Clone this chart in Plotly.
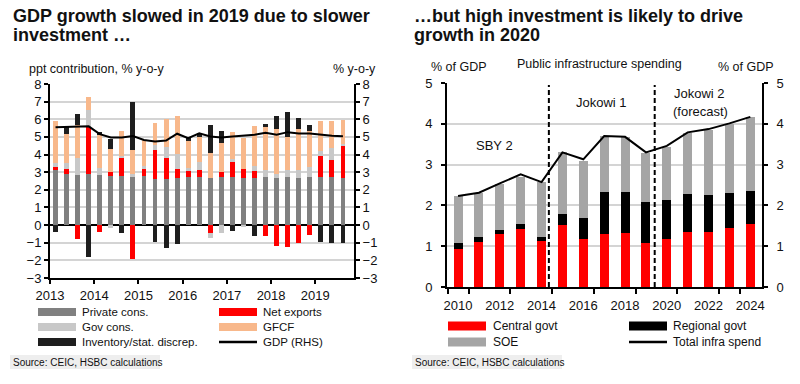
import plotly.graph_objects as go

# ---------------- Left chart data (quarterly, ppt contribution) ----------------
quarters = ["2013Q1", "2013Q2", "2013Q3", "2013Q4", "2014Q1", "2014Q2", "2014Q3", "2014Q4",
            "2015Q1", "2015Q2", "2015Q3", "2015Q4", "2016Q1", "2016Q2", "2016Q3", "2016Q4",
            "2017Q1", "2017Q2", "2017Q3", "2017Q4", "2018Q1", "2018Q2", "2018Q3", "2018Q4",
            "2019Q1", "2019Q2", "2019Q3"]
private_cons = [3.13, 2.90, 2.84, 2.90, 2.86, 2.77, 2.77, 2.77, 2.77, 2.62, 2.62, 2.69, 2.75, 2.75,
                2.65, 2.75, 2.75, 2.65, 2.65, 2.75, 2.69, 2.75, 2.65, 2.75, 2.75, 2.75, 2.69]
net_exports = [0.19, 0.28, -0.80, 2.65, -0.40, 0.23, 1.06, -1.95, 0.41, 1.65, 1.21, 0.49, 0.32, 0.38,
               -0.47, 0.25, 0.81, 0.53, 0.44, -0.60, -1.17, -1.22, -1.00, -0.57, 1.14, 0.95, 1.85]
gov_cons = [0.19, 0.32, 0.95, 0.99, 0.36, -0.15, 0.07, 0.11, 0.18, 0.28, 0.57, 0.84, 0.19, 0.47,
            -0.25, -0.47, 0.17, -0.13, 0.27, 0.38, 0.21, 0.38, 0.48, 0.57, 0.31, 0.66, 0.08]
gfcf = [2.38, 1.68, 1.86, 0.72, 1.94, 1.30, 1.45, 1.39, 1.47, 1.23, 1.63, 2.18, 1.52, 1.42,
        1.42, 1.64, 1.54, 1.75, 2.27, 2.46, 2.56, 1.89, 2.33, 2.03, 1.68, 1.57, 1.35]
inventory = [-0.40, 0.36, 0.64, -1.80, 0.11, 0.59, -0.45, 2.73, 0.00, -0.95, -1.30, -1.10, 0.15, 0.19,
             1.62, 0.71, -0.35, 0.00, -0.62, 0.15, 0.70, 1.38, 0.61, 0.30, -0.98, -1.04, -1.04]
gdp_yoy = [5.55, 5.57, 5.60, 5.60, 5.16, 4.97, 4.97, 5.05, 4.83, 4.74, 4.79, 5.18, 4.93, 5.20,
           5.02, 4.97, 5.02, 5.06, 5.12, 5.23, 5.12, 5.27, 5.19, 5.19, 5.12, 5.06, 5.04]
left_years = ["2013", "2014", "2015", "2016", "2017", "2018", "2019"]

# ---------------- Right chart data (% of GDP) ----------------
years = [2010, 2011, 2012, 2013, 2014, 2015, 2016, 2017, 2018, 2019, 2020, 2021, 2022, 2023, 2024]
central_govt = [0.92, 1.11, 1.29, 1.42, 1.13, 1.52, 1.18, 1.29, 1.32, 1.09, 1.17, 1.34, 1.36, 1.44, 1.54]
regional_govt = [0.15, 0.12, 0.11, 0.12, 0.09, 0.26, 0.50, 1.05, 1.00, 1.00, 0.96, 0.93, 0.89, 0.87, 0.82]
soe = [1.16, 1.07, 1.12, 1.15, 1.36, 1.52, 1.42, 1.36, 1.36, 1.19, 1.31, 1.51, 1.60, 1.69, 1.81]
total_infra = [2.23, 2.31, 2.54, 2.76, 2.57, 3.30, 3.13, 3.70, 3.68, 3.30, 3.46, 3.79, 3.87, 4.01, 4.17]
right_tick_years = [2010, 2012, 2014, 2016, 2018, 2020, 2022, 2024]
period_breaks = [2014.35, 2019.42]

# ---------------- Styling ----------------
FONT = "Arial, 'Liberation Sans', sans-serif"
C_PRIV, C_GOV, C_NX, C_GFCF, C_INV = "#808080", "#c8c8c8", "#ff0000", "#f8b88b", "#1e1e1e"
C_CEN, C_REG, C_SOE = "#ff0000", "#000000", "#a5a5a5"
GRID = "#d4d4d4"
W, H = 800, 384


def px(x):
    return x / W


def py(y):
    return 1 - y / H


xi = list(range(len(quarters)))
year_pos = [quarters.index(y + "Q1") - 0.5 for y in left_years]

fig = go.Figure()
for name, vals, col in [("Private cons.", private_cons, C_PRIV), ("Net exports", net_exports, C_NX),
                        ("Gov cons.", gov_cons, C_GOV), ("GFCF", gfcf, C_GFCF),
                        ("Inventory/stat. discrep.", inventory, C_INV)]:
    fig.add_trace(go.Bar(x=xi, y=vals, name=name, marker=dict(color=col, line=dict(width=0)),
                         width=0.44, xaxis="x", yaxis="y"))
fig.add_trace(go.Scatter(x=xi, y=gdp_yoy, mode="lines", name="GDP (RHS)",
                         line=dict(color="black", width=2), xaxis="x", yaxis="y2"))

for name, vals, col in [("Central govt", central_govt, C_CEN), ("Regional govt", regional_govt, C_REG),
                        ("SOE", soe, C_SOE)]:
    fig.add_trace(go.Bar(x=years, y=vals, name=name, marker=dict(color=col, line=dict(width=0)),
                         width=0.43, xaxis="x2", yaxis="y3"))
fig.add_trace(go.Scatter(x=years, y=total_infra, mode="lines", name="Total infra spend",
                         line=dict(color="black", width=2), xaxis="x2", yaxis="y4"))

axis_common = dict(showline=True, linecolor="black", linewidth=2, ticks="outside", ticklen=4,
                   tickwidth=2, tickcolor="black", automargin=False,
                   tickfont=dict(size=13, color="#111", family=FONT))

fig.update_layout(
    width=W, height=H, margin=dict(l=0, r=0, t=0, b=0, autoexpand=False), paper_bgcolor="white",
    plot_bgcolor="white",
    barmode="relative", bargap=0, showlegend=False, font=dict(family=FONT, color="#111"),
    xaxis=dict(domain=[px(50), px(354)], anchor="y", range=[-0.5, 27.0], tickvals=year_pos,
               ticktext=left_years, showgrid=False, zeroline=False, **axis_common),
    yaxis=dict(domain=[py(278), py(84)], anchor="x", range=[-3, 8], dtick=1, showgrid=True,
               gridcolor=GRID, gridwidth=1.5, zeroline=True, zerolinecolor="black", zerolinewidth=2,
               **axis_common),
    yaxis2=dict(overlaying="y", anchor="x", side="right", range=[-3, 8], dtick=1, showgrid=False,
                zeroline=False, **axis_common),
    xaxis2=dict(domain=[px(447), px(762)], anchor="y3", range=[2009.47, 2024.56],
                tickvals=right_tick_years, ticktext=[str(y) for y in right_tick_years], ticks="",
                ticklabelstandoff=5,
                showgrid=False, zeroline=False, showline=True, linecolor="black", linewidth=2,
                automargin=False, tickfont=dict(size=13, color="#111", family=FONT),
                minor=dict(tickvals=[y + 0.5 for y in [2009] + right_tick_years[:-1]] + [2023.5],
                           ticks="outside", ticklen=5, tickwidth=2, tickcolor="black", showgrid=False)),
    yaxis3=dict(domain=[py(287), py(83)], anchor="x2", range=[0, 5], dtick=1, showgrid=True,
                gridcolor=GRID, gridwidth=1.5, zeroline=False, ticklabelstandoff=6, **axis_common),
    yaxis4=dict(overlaying="y3", anchor="x2", side="right", range=[0, 5], dtick=1, showgrid=False,
                zeroline=False, ticklabelstandoff=6, **axis_common),
)

shapes = []
for xb in period_breaks:
    shapes.append(dict(type="line", xref="x2", yref="y3", x0=xb, x1=xb, y0=0, y1=4.95,
                       line=dict(color="black", width=2, dash="5px,3px")))

annotations = []


def text(x, y, s, size=12.5, anchor="left", bold=False):
    annotations.append(dict(xref="paper", yref="paper", x=px(x), y=py(y), text=("<b>%s</b>" % s) if bold else s,
                            showarrow=False, xanchor=anchor, yanchor="middle",
                            font=dict(size=size, family=FONT, color="#111")))


# Titles
text(11, 16, "GDP growth slowed in 2019 due to slower", size=18, bold=True)
text(11, 35, "investment \u2026", size=18, bold=True)
text(412, 16, "\u2026but high investment is likely to drive", size=18, bold=True)
text(412, 35, "growth in 2020", size=18, bold=True)

# Axis captions
text(27, 69, "ppt contribution, % y-o-y")
text(378, 69, "% y-o-y", anchor="right")
text(429, 67, "% of GDP")
text(776, 67, "% of GDP", anchor="right")
text(599, 64, "Public infrastructure spending", anchor="center")
text(494, 146, "SBY 2", size=13, anchor="center")
text(601, 102, "Jokowi 1", size=13, anchor="center")
text(699, 94, "Jokowi 2", size=13, anchor="center")
text(700, 111, "(forecast)", size=13, anchor="center")


# Manual legends
def swatch(x0, x1, yc, color, h=8):
    shapes.append(dict(type="rect", xref="paper", yref="paper", x0=px(x0), x1=px(x1),
                       y0=py(yc + h / 2), y1=py(yc - h / 2), fillcolor=color, line=dict(width=0)))


def legline(x0, x1, yc):
    shapes.append(dict(type="line", xref="paper", yref="paper", x0=px(x0), x1=px(x1), y0=py(yc), y1=py(yc),
                       line=dict(color="black", width=2.5)))


for yc, col, lab in [(312, C_PRIV, "Private cons."), (327, C_GOV, "Gov cons."), (342, C_INV, "Inventory/stat. discrep.")]:
    swatch(38, 76, yc, col)
    text(80, yc, lab, size=11.5)
for yc, col, lab in [(312, C_NX, "Net exports"), (327, C_GFCF, "GFCF")]:
    swatch(219, 257, yc, col)
    text(261, yc, lab, size=11.5)
legline(219, 257, 342)
text(261, 342, "GDP (RHS)", size=11.5)

for yc, col, lab in [(326, C_CEN, "Central govt"), (342, C_SOE, "SOE")]:
    swatch(448, 486, yc, col, h=9)
    text(491, yc, lab, size=12)
swatch(629, 667, 326, C_REG, h=9)
text(671, 326, "Regional govt", size=12)
legline(629, 667, 342)
text(671, 342, "Total infra spend", size=12)

# Source boxes
for x0 in [10, 412]:
    shapes.append(dict(type="rect", xref="paper", yref="paper", x0=px(x0), x1=px(x0 + 150),
                       y0=py(369), y1=py(355), fillcolor="#eeeeee", line=dict(width=0), layer="below"))
    text(x0 + 1, 362, "Source: CEIC, HSBC calculations", size=10)

fig.update_layout(shapes=shapes, annotations=annotations)
fig.write_html("out.html", config={"displayModeBar": False},
               post_script="document.body.style.margin='0';document.body.style.overflow='hidden';")
